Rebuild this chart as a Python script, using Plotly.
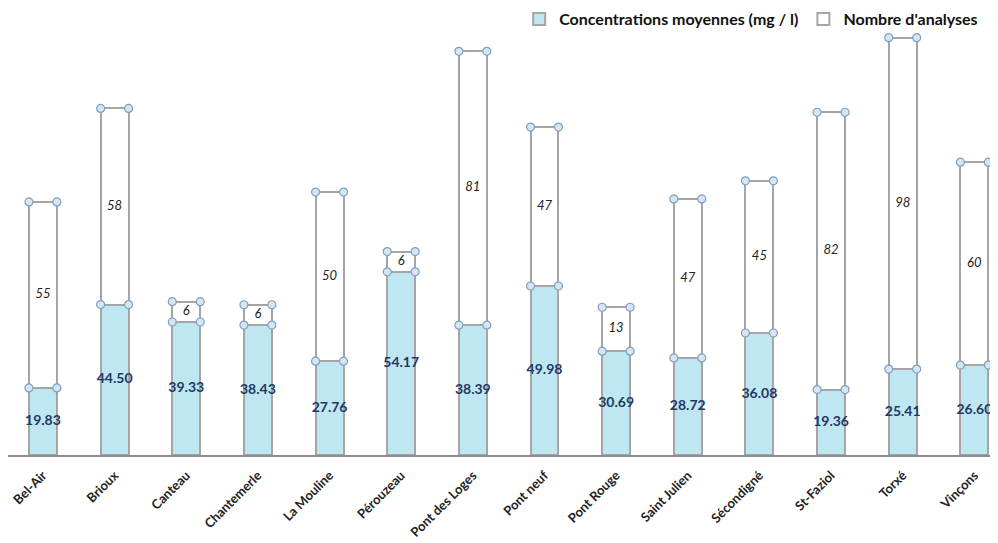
import plotly.graph_objects as go

# Stations and values
stations = ['Bel-Air', 'Brioux', 'Canteau', 'Chantemerle', 'La Mouline', 'Pérouzeau',
            'Pont des Loges', 'Pont neuf', 'Pont Rouge', 'Saint Julien', 'Sécondigné',
            'St-Faziol', 'Torxé', 'Vinçons']
concentrations = [19.83, 44.50, 39.33, 38.43, 27.76, 54.17, 38.39, 49.98, 30.69,
                  28.72, 36.08, 19.36, 25.41, 26.60]
analyses = [55, 58, 6, 6, 50, 6, 81, 47, 13, 47, 45, 82, 98, 60]

FONT = 'Lato, Open Sans, sans-serif'
bar_w = 0.39
xs = list(range(len(stations)))
totals = [c + n for c, n in zip(concentrations, analyses)]

fig = go.Figure()

fig.add_trace(go.Bar(
    x=xs, y=concentrations, width=bar_w,
    name='<b>Concentrations moyennes (mg / l)</b>',
    marker=dict(color='#BFE7F2', line=dict(color='#A5A5A5', width=2)),
    hoverinfo='y',
))
fig.add_trace(go.Bar(
    x=xs, y=analyses, width=bar_w,
    name="<b>Nombre d'analyses</b>",
    marker=dict(color='#FFFFFF', line=dict(color='#A5A5A5', width=2)),
    hoverinfo='y',
))

# corner handles on the top of each segment
hx, hy = [], []
for i in xs:
    for top in (concentrations[i], totals[i]):
        hx += [i - bar_w / 2, i + bar_w / 2]
        hy += [top, top]
fig.add_trace(go.Scatter(
    x=hx, y=hy, mode='markers', showlegend=False, hoverinfo='skip',
    marker=dict(size=8, color='#D5E6F2', line=dict(color='#7FA0BE', width=1.2)),
))

# value labels
fig.add_trace(go.Scatter(
    x=xs, y=[c / 2 for c in concentrations], mode='text', showlegend=False,
    text=[f'<b>{c:.2f}</b>' for c in concentrations], hoverinfo='skip',
    textfont=dict(family=FONT, size=14, color='#1F3864'),
))
fig.add_trace(go.Scatter(
    x=xs, y=[c + n / 2 for c, n in zip(concentrations, analyses)], mode='text',
    showlegend=False, text=[f'<i>{n}</i>' for n in analyses], hoverinfo='skip',
    textfont=dict(family=FONT, size=13, color='#222222'),
))

# page body adds an 8px margin, so the figure is a little smaller than the window
fig.update_layout(
    width=990, height=535,
    barmode='stack',
    paper_bgcolor='white', plot_bgcolor='white',
    margin=dict(l=0, r=0, t=2, b=88, autoexpand=False),
    font=dict(family=FONT, color='#222222'),
    legend=dict(orientation='h', x=0.985, xanchor='right', y=1.018, yanchor='top',
                font=dict(size=16, color='#111111'), traceorder='normal',
                itemwidth=30, bgcolor='rgba(0,0,0,0)'),
    xaxis=dict(
        tickmode='array', tickvals=xs, ticktext=[f'<b>{s}</b>' for s in stations],
        tickangle=-45, tickfont=dict(size=13, color='#222222'), ticklabelstandoff=6,
        range=[-0.488, 13.33], showgrid=False, zeroline=False, automargin=False,
        showline=True, linecolor='#8C8C8C', linewidth=1.5, ticks='',
    ),
    yaxis=dict(range=[0, 131.6], visible=False, showgrid=False, zeroline=False,
               automargin=False),
    bargap=0,
)

fig.write_html('out.html')
